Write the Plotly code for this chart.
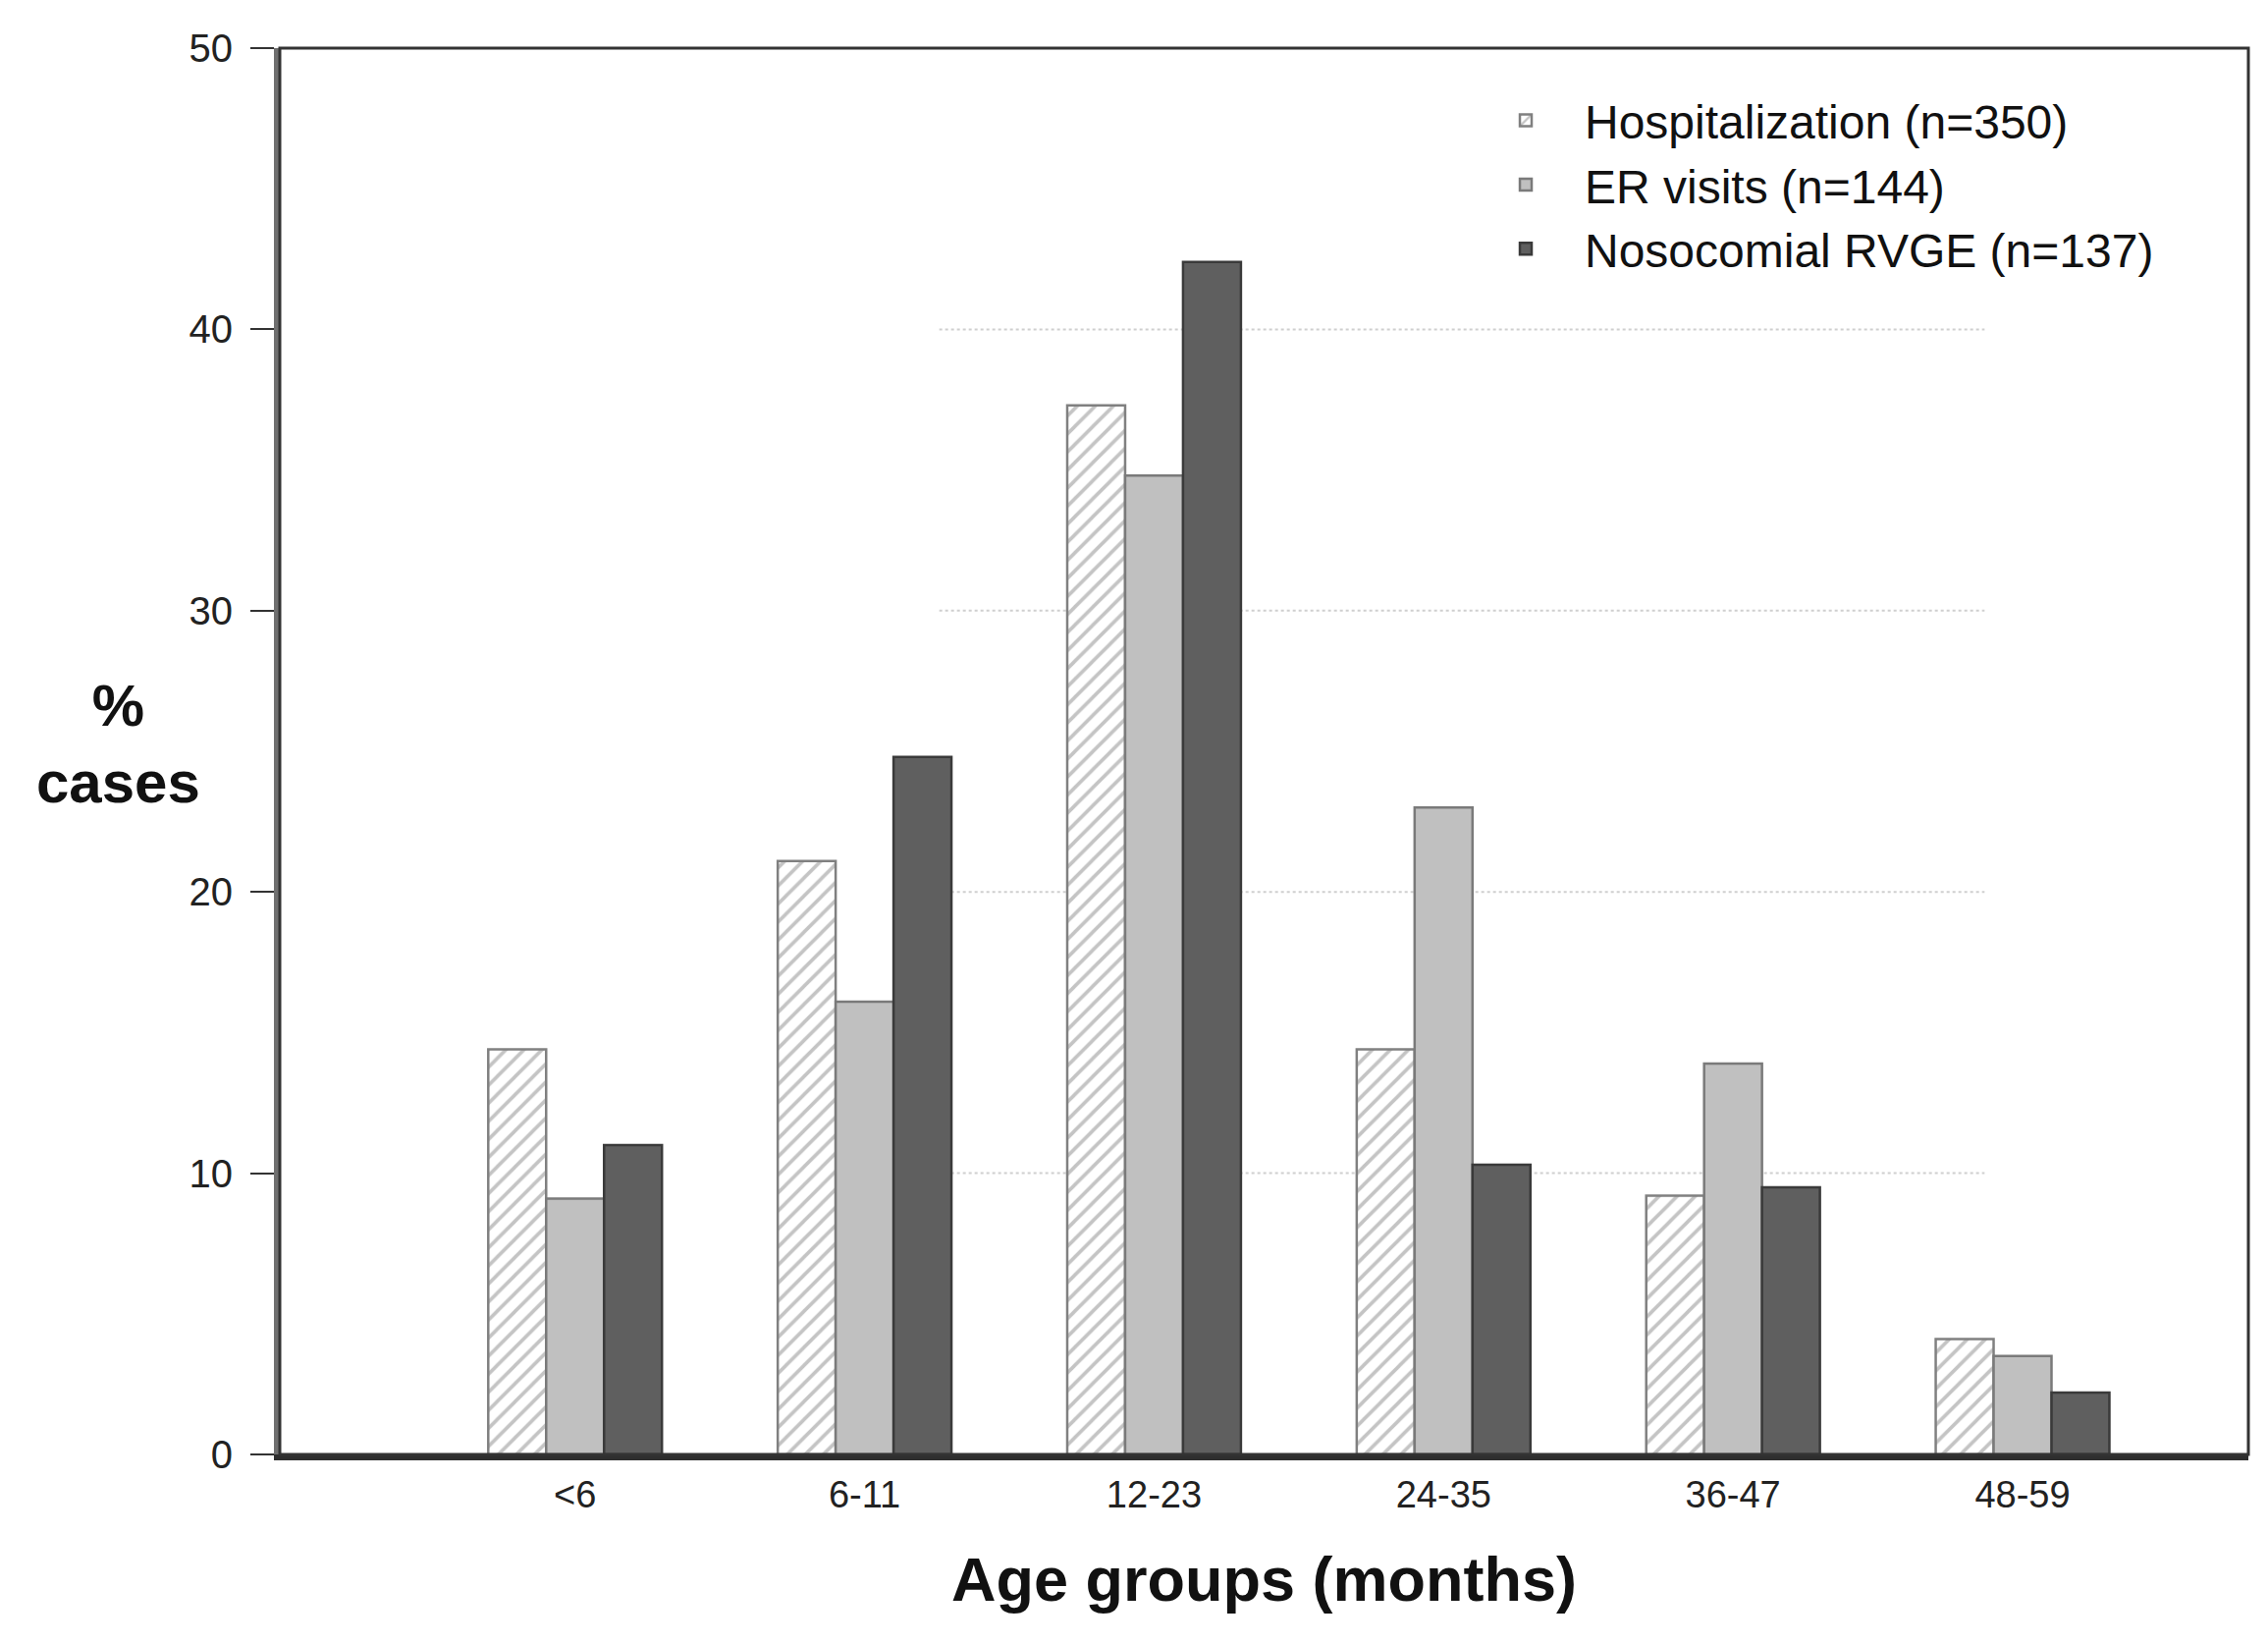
import plotly.graph_objects as go

categories = ["<6", "6-11", "12-23", "24-35", "36-47", "48-59"]
hospitalization = [14.4, 21.1, 37.3, 14.4, 9.2, 4.1]
er_visits = [9.1, 16.1, 34.8, 23.0, 13.9, 3.5]
nosocomial = [11.0, 24.8, 42.4, 10.3, 9.5, 2.2]
series_names = ["Hospitalization (n=350)", "ER visits (n=144)", "Nosocomial RVGE (n=137)"]
y_ticks = [0, 10, 20, 30, 40, 50]
grid_values = [10, 20, 30, 40]

fig = go.Figure()
fig.add_trace(go.Bar(
    x=categories, y=hospitalization, name=series_names[0],
    marker=dict(color="white", line=dict(color="#808080", width=2.5),
                pattern=dict(shape="/", fgcolor="#8a8a8a", bgcolor="white", size=13, solidity=0.28)),
))
fig.add_trace(go.Bar(
    x=categories, y=er_visits, name=series_names[1],
    marker=dict(color="#c0c0c0", line=dict(color="#7a7a7a", width=2.5)),
))
fig.add_trace(go.Bar(
    x=categories, y=nosocomial, name=series_names[2],
    marker=dict(color="#5f5f5f", line=dict(color="#3a3a3a", width=2.5)),
))

# partial dotted gridlines
for g in grid_values:
    fig.add_shape(type="line", xref="paper", yref="y", x0=0.335, x1=0.866, y0=g, y1=g,
                  line=dict(color="#cfcfcf", width=2, dash="dot"), layer="below")

# thin frame
fig.add_shape(type="rect", xref="paper", yref="paper", x0=0, x1=1, y0=0, y1=1,
              line=dict(color="#333333", width=3), layer="above")

fig.add_annotation(text="<b>%<br>cases</b>", xref="paper", yref="paper",
                   x=-0.082, y=0.505, xanchor="center", yanchor="middle", showarrow=False,
                   font=dict(family="Liberation Sans, Arial, sans-serif", size=60, color="#111"))

fig.update_layout(
    width=2310, height=1673,
    margin=dict(l=277, r=28, t=41, b=200),
    paper_bgcolor="white", plot_bgcolor="white",
    barmode="group", bargap=0.4, bargroupgap=0.0,
    font=dict(family="Liberation Sans, Arial, sans-serif", color="#222"),
    showlegend=True,
    legend=dict(x=0.603, y=0.975, xanchor="left", yanchor="top",
                font=dict(size=48, color="#111"), bgcolor="rgba(0,0,0,0)",
                itemwidth=110, tracegroupgap=0),
    xaxis=dict(
        type="category", range=[-1.02, 5.78],
        showline=True, linecolor="#2e2e2e", linewidth=6,
        ticks="", showgrid=False, zeroline=False,
        tickfont=dict(size=38, color="#222"), ticklabelstandoff=2,
        title=dict(text="<b>Age groups (months)</b>", font=dict(size=63, color="#111"), standoff=46),
    ),
    yaxis=dict(
        range=[0, 50], tickvals=y_ticks,
        showline=True, linecolor="#707070", linewidth=6,
        ticks="outside", ticklen=24, tickwidth=2, tickcolor="#333",
        showgrid=False, zeroline=False,
        tickfont=dict(size=40, color="#222"), ticklabelstandoff=10,
    ),
)

fig.write_html("out.html")
